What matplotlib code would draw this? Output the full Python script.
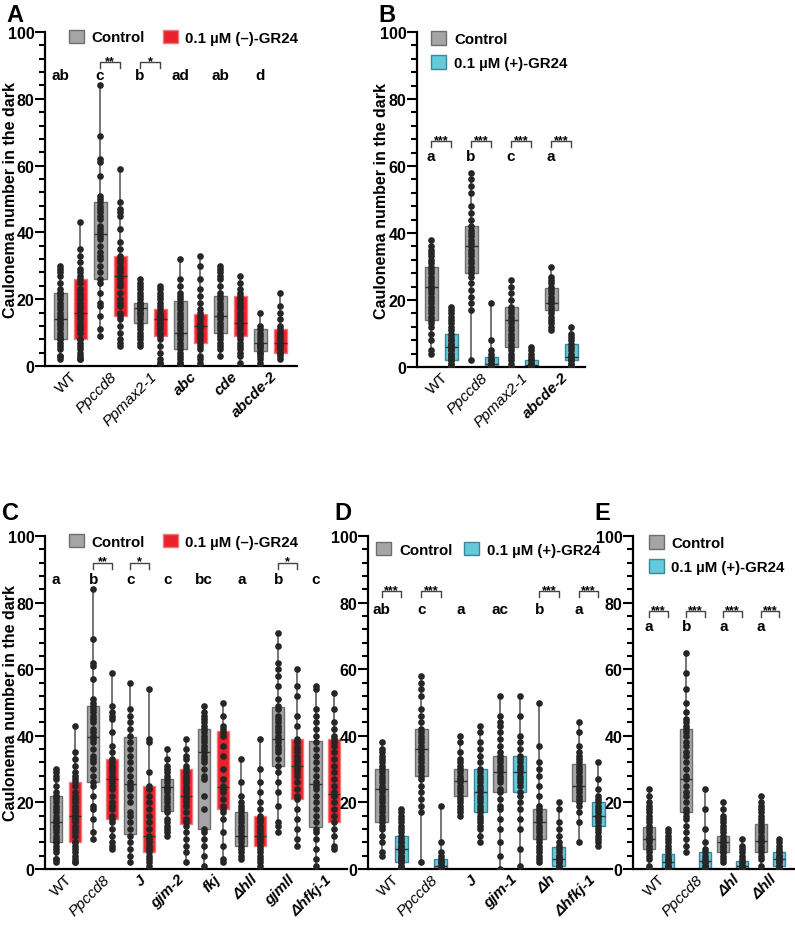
import matplotlib
matplotlib.use('Agg')
import matplotlib.pyplot as plt
from matplotlib.patches import Patch

plt.rcParams['font.family'] = ['Liberation Sans', 'DejaVu Sans']
plt.rcParams['font.weight'] = 'bold'

GRAY = '#a5a5a7'
GRAY_E = '#6e6e6e'
RED = '#e8212b'
RED_E = '#f07a7a'
CYAN = '#63c9db'
CYAN_E = '#3a8797'
DOT = '#262626'

# ---------------- panel A data ----------------
a_labels = ['WT', 'Ppccd8', 'Ppmax2-1', 'abc', 'cde', 'abcde-2']
a_letters = ['ab', 'c', 'b', 'ad', 'ab', 'd']
a_stars = {1: '**', 2: '*'}
a_q1 = [8, 8, 26, 15, 13, 9, 5, 7, 10, 9, 4.5, 4]
a_med = [14, 16, 39.5, 27, 17.5, 14, 10, 12, 15, 13, 7, 7]
a_q3 = [22, 26, 49, 33, 19, 17, 19.5, 15.5, 21, 21, 11, 11]

wt_ctrl = [2, 3, 3, 5, 6, 7, 8, 8, 9, 10, 11, 12, 13, 13, 14, 14, 15, 16, 17, 18, 19, 20, 21, 22, 22, 23, 25, 27, 28, 29, 30]
wt_gr = [2, 2, 3, 4, 5, 6, 7, 8, 8, 10, 11, 12, 13, 14, 15, 16, 16, 17, 18, 19, 20, 21, 22, 23, 25, 26, 27, 28, 29, 31, 33, 35, 43]
ccd8_ctrl = [9, 11, 15, 18, 19, 22, 25, 26, 28, 30, 32, 33, 34, 36, 38, 39, 40, 41, 42, 44, 45, 46, 47, 48, 49, 50, 51, 57, 61, 62, 69, 84]
ccd8_gr = [6, 7, 8, 10, 12, 14, 15, 16, 18, 19, 20, 22, 24, 25, 26, 27, 28, 29, 30, 31, 32, 33, 35, 37, 41, 45, 46, 47, 49, 59]
max2_ctrl = [6, 7, 8, 9, 10, 11, 12, 13, 14, 15, 16, 16, 17, 17, 18, 18, 19, 19, 20, 21, 22, 23, 24, 25, 26]
max2_gr = [1, 1, 2, 4, 6, 8, 9, 10, 11, 12, 13, 13, 14, 14, 15, 15, 16, 17, 18, 19, 20, 21, 22, 23, 24]
abc_ctrl = [1, 1, 2, 3, 4, 5, 6, 7, 8, 9, 10, 10, 11, 12, 13, 14, 15, 16, 17, 18, 19, 20, 21, 22, 24, 26, 32]
abc_gr = [1, 2, 3, 5, 6, 7, 8, 9, 10, 11, 12, 12, 13, 14, 15, 16, 17, 19, 21, 23, 26, 30, 33]
cde_ctrl = [3, 5, 6, 7, 8, 9, 10, 11, 12, 13, 14, 15, 15, 16, 17, 18, 19, 20, 21, 22, 24, 26, 27, 28, 29, 30]
cde_gr = [1, 3, 4, 5, 6, 7, 8, 9, 10, 11, 12, 13, 13, 14, 15, 16, 17, 18, 19, 20, 21, 22, 23, 25, 27]
abcde_ctrl = [1, 2, 3, 4, 4, 5, 6, 6, 7, 7, 8, 9, 10, 11, 12, 16]
abcde_gr = [2, 3, 4, 4, 5, 6, 6, 7, 7, 8, 9, 10, 11, 12, 14, 16, 18, 22]
a_points = [wt_ctrl, wt_gr, ccd8_ctrl, ccd8_gr, max2_ctrl, max2_gr,
            abc_ctrl, abc_gr, cde_ctrl, cde_gr, abcde_ctrl, abcde_gr]

# ---------------- panel B data ----------------
b_labels = ['WT', 'Ppccd8', 'Ppmax2-1', 'abcde-2']
b_letters = ['a', 'b', 'c', 'a']
b_stars = {0: '***', 1: '***', 2: '***', 3: '***'}
b_q1 = [14, 2, 28, 0, 6, 0, 17, 2]
b_med = [24, 6, 36, 1, 14, 0.5, 19, 3]
b_q3 = [30, 10, 42, 3, 18, 2, 23.5, 7]

b_wt_ctrl = [4, 5, 8, 10, 12, 13, 14, 15, 16, 17, 18, 19, 20, 21, 22, 23, 24, 24, 25, 26, 27, 28, 29, 30, 31, 32, 33, 34, 35, 36, 38]
b_wt_gr = [0, 0, 1, 1, 2, 2, 3, 3, 4, 4, 5, 5, 6, 6, 7, 7, 8, 8, 9, 10, 11, 12, 13, 14, 15, 16, 17, 18]
b_ccd8_ctrl = [2, 17, 19, 21, 23, 25, 27, 28, 29, 30, 31, 32, 33, 34, 35, 36, 37, 38, 39, 40, 41, 42, 44, 46, 48, 52, 54, 56, 58]
b_ccd8_gr = [0, 0, 0, 0, 1, 1, 1, 2, 2, 3, 4, 5, 8, 19]
b_max2_ctrl = [0, 1, 2, 3, 4, 5, 6, 7, 8, 9, 10, 11, 12, 13, 14, 15, 16, 17, 18, 20, 22, 24, 26]
b_max2_gr = [0, 0, 0, 0, 0, 0, 1, 1, 1, 2, 2, 3, 4, 5, 6]
b_abcde_ctrl = [11, 12, 13, 14, 15, 16, 17, 18, 19, 19, 20, 21, 22, 23, 24, 25, 26, 27, 30]
b_abcde_gr = [0, 0, 1, 1, 2, 2, 3, 3, 4, 5, 6, 7, 8, 9, 10, 12]
b_points = [b_wt_ctrl, b_wt_gr, b_ccd8_ctrl, b_ccd8_gr, b_max2_ctrl, b_max2_gr,
            b_abcde_ctrl, b_abcde_gr]

# ---------------- panel C data ----------------
c_labels = ['WT', 'Ppccd8', 'J', 'gjm-2', 'fkj', 'Δhll', 'gjmll', 'Δhfkj-1']
c_letters = ['a', 'b', 'c', 'c', 'bc', 'a', 'b', 'c']
c_stars = {1: '**', 2: '*', 6: '*'}
c_q1 = [8, 8, 26, 15, 10.5, 5, 17.5, 13.5, 12, 18, 7, 7, 31, 21, 12.5, 14]
c_med = [14, 16, 39.5, 27, 25.5, 10, 24.5, 22, 35, 24.5, 10, 10, 39, 31, 25.5, 22.5]
c_q3 = [22, 26, 49, 33, 39.5, 25, 27, 30, 42, 41.5, 17, 16, 48.5, 39, 38.5, 39]

j_ctrl = [2, 4, 6, 8, 10, 12, 14, 16, 17, 20, 22, 24, 25, 26, 28, 30, 32, 34, 36, 38, 40, 42, 44, 46, 48, 56]
j_gr = [1, 2, 3, 4, 5, 6, 7, 8, 9, 10, 12, 14, 16, 18, 20, 22, 24, 25, 29, 38, 39, 54]
gjm2_ctrl = [10, 11, 12, 13, 14, 15, 17, 18, 19, 20, 21, 22, 23, 24, 24, 25, 26, 27, 28, 29, 30, 31, 33, 36]
gjm2_gr = [2, 5, 7, 9, 11, 13, 14, 15, 17, 19, 20, 21, 22, 23, 24, 25, 26, 27, 28, 29, 30, 31, 33, 34, 36, 39]
fkj_ctrl = [1, 4, 7, 9, 11, 12, 18, 22, 27, 28, 30, 32, 33, 34, 35, 36, 37, 38, 39, 40, 41, 42, 43, 44, 45, 46, 47, 49]
fkj_gr = [2, 3, 7, 11, 15, 17, 18, 19, 21, 23, 24, 25, 27, 30, 34, 37, 40, 41, 42, 43, 46, 50]
hll_ctrl = [3, 4, 5, 6, 7, 8, 9, 10, 10, 11, 12, 13, 14, 15, 16, 17, 18, 19, 20, 22, 26, 33]
hll_gr = [1, 2, 3, 4, 5, 6, 7, 8, 9, 10, 10, 11, 12, 13, 14, 15, 16, 18, 20, 23, 26, 30, 39]
gjmll_ctrl = [11, 13, 14, 19, 23, 26, 29, 31, 33, 35, 36, 37, 38, 39, 40, 41, 42, 43, 44, 45, 46, 48, 49, 51, 55, 58, 60, 62, 67, 71]
gjmll_gr = [7, 9, 12, 15, 18, 21, 22, 24, 26, 28, 29, 30, 31, 32, 33, 34, 35, 36, 37, 38, 39, 43, 46, 52, 55, 60]
hfkj_ctrl = [1, 3, 6, 9, 11, 12, 14, 16, 18, 20, 22, 24, 25, 26, 28, 30, 32, 34, 36, 38, 40, 42, 44, 46, 48, 54, 55]
hfkj_gr = [6, 7, 10, 12, 14, 16, 18, 20, 22, 23, 25, 27, 29, 31, 33, 35, 37, 38, 39, 40, 42, 44, 48, 53]
c_points = [wt_ctrl, wt_gr, ccd8_ctrl, ccd8_gr, j_ctrl, j_gr, gjm2_ctrl, gjm2_gr,
            fkj_ctrl, fkj_gr, hll_ctrl, hll_gr, gjmll_ctrl, gjmll_gr, hfkj_ctrl, hfkj_gr]

# ---------------- panel D data ----------------
d_labels = ['WT', 'Ppccd8', 'J', 'gjm-1', 'Δh', 'Δhfkj-1']
d_letters = ['ab', 'c', 'a', 'ac', 'b', 'a']
d_stars = {0: '***', 1: '***', 4: '***', 5: '***'}
d_q1 = [14, 2, 28, 0, 22, 17, 23, 23, 9, 1, 20.5, 13]
d_med = [24, 6, 36, 1, 26.5, 23, 29, 29, 14, 3, 25, 16]
d_q3 = [30, 10, 42, 3, 30, 30, 34, 34, 18, 6.5, 31.5, 20]

d_j_ctrl = [16, 17, 18, 19, 20, 21, 22, 23, 24, 25, 26, 27, 27, 28, 29, 30, 31, 32, 33, 35, 38, 40]
d_j_gr = [8, 10, 12, 13, 14, 15, 16, 17, 18, 19, 20, 21, 22, 23, 24, 25, 26, 27, 28, 29, 30, 32, 34, 36, 38, 41, 43]
gjm1_ctrl = [0, 4, 8, 12, 15, 18, 19, 21, 23, 24, 26, 27, 28, 29, 30, 31, 32, 33, 34, 35, 37, 39, 41, 43, 44, 46, 52]
gjm1_gr = [1, 6, 12, 15, 18, 20, 22, 23, 25, 26, 27, 28, 29, 30, 31, 32, 33, 34, 36, 38, 40, 46, 52]
h_ctrl = [2, 3, 4, 5, 6, 7, 8, 9, 10, 11, 12, 13, 14, 15, 16, 17, 18, 19, 22, 25, 28, 30, 32, 37, 50]
h_gr = [0, 0, 1, 1, 2, 2, 3, 3, 4, 4, 5, 6, 7, 8, 10, 12, 14, 18, 20]
d_hfkj_ctrl = [8, 14, 17, 19, 20, 21, 22, 23, 24, 25, 26, 27, 28, 29, 30, 31, 32, 33, 34, 35, 37, 41, 44]
d_hfkj_gr = [7, 8, 9, 10, 11, 12, 13, 14, 15, 16, 16, 17, 18, 19, 20, 21, 22, 24, 27, 32]
d_points = [b_wt_ctrl, b_wt_gr, b_ccd8_ctrl, b_ccd8_gr, d_j_ctrl, d_j_gr,
            gjm1_ctrl, gjm1_gr, h_ctrl, h_gr, d_hfkj_ctrl, d_hfkj_gr]

# ---------------- panel E data ----------------
e_labels = ['WT', 'Ppccd8', 'Δhl', 'Δhll']
e_letters = ['a', 'b', 'a', 'a']
e_stars = {0: '***', 1: '***', 2: '***', 3: '***'}
e_q1 = [6, 0, 17, 0, 5, 0, 5, 1]
e_med = [9, 2, 27, 2.5, 8, 1, 8.5, 3]
e_q3 = [12.5, 4.5, 42, 5, 10, 2.5, 13.5, 5]

e_wt_ctrl = [0, 1, 3, 4, 5, 6, 7, 8, 9, 9, 10, 11, 12, 13, 14, 15, 16, 17, 18, 19, 20, 22, 24]
e_wt_gr = [0, 0, 0, 1, 1, 2, 2, 3, 3, 4, 5, 6, 7, 8, 9, 10, 11, 12]
e_ccd8_ctrl = [5, 7, 9, 11, 13, 15, 16, 17, 18, 20, 22, 23, 25, 27, 28, 30, 32, 34, 35, 37, 38, 40, 41, 42, 43, 44, 45, 47, 50, 54, 59, 65]
e_ccd8_gr = [0, 0, 0, 1, 1, 2, 2, 3, 4, 5, 6, 8, 12, 18, 24]
hl_ctrl = [2, 3, 4, 5, 5, 6, 7, 7, 8, 8, 9, 10, 11, 12, 13, 14, 15, 16, 18, 20]
hl_gr = [0, 0, 0, 0, 1, 1, 1, 2, 2, 3, 4, 5, 6, 7, 9]
e_hll_ctrl = [1, 3, 4, 5, 6, 7, 8, 8, 9, 10, 11, 12, 13, 14, 15, 16, 17, 18, 19, 20, 22]
e_hll_gr = [0, 0, 1, 1, 2, 2, 3, 3, 4, 4, 5, 5, 6, 7, 8, 9]
e_points = [e_wt_ctrl, e_wt_gr, e_ccd8_ctrl, e_ccd8_gr, hl_ctrl, hl_gr, e_hll_ctrl, e_hll_gr]

# label styles: (style, weight)
label_style = {'WT': ('normal', 'normal'), 'Ppccd8': ('italic', 'normal'),
               'Ppmax2-1': ('italic', 'normal')}

W, H = 795, 928


def px(l, t, r, b):
    return [l / W, 1 - b / H, (r - l) / W, (b - t) / H]


def panel(ax, points, q1, med, q3, labels, letters, stars, treat_col, treat_edge,
          xlim, let_y, br_y, ylabel_x=None):
    n = len(points)
    pos = list(range(n))
    stats = []
    for i in range(n):
        stats.append({'med': med[i], 'q1': q1[i], 'q3': q3[i],
                      'whislo': min(points[i]), 'whishi': max(points[i]), 'fliers': []})
    bp = ax.bxp(stats, positions=pos, widths=0.65, patch_artist=True, showcaps=False,
                showfliers=False,
                whiskerprops=dict(color='#6a6a6a', lw=1.3),
                medianprops=dict(color='#333333', lw=1.0),
                boxprops=dict(lw=1.0))
    for i, b in enumerate(bp['boxes']):
        if i % 2 == 0:
            b.set_facecolor(GRAY)
            b.set_edgecolor(GRAY_E)
        else:
            b.set_facecolor(treat_col)
            b.set_edgecolor(treat_edge)
    for i in range(n):
        ax.plot([pos[i]] * len(points[i]), points[i], 'o', color=DOT, ms=4.8,
                mec='none', zorder=5)
    ax.set_xlim(*xlim)
    ax.set_ylim(0, 100)
    ax.set_yticks(range(0, 101, 20))
    ax.set_yticks(range(0, 101, 4), minor=True)
    ax.tick_params(axis='y', which='major', length=7, width=1.5, labelsize=11.5, pad=0.5)
    ax.tick_params(axis='y', which='minor', length=4, width=1.5)
    ax.tick_params(axis='x', length=0, pad=2)
    for s in ['top', 'right']:
        ax.spines[s].set_visible(False)
    for s in ['left', 'bottom']:
        ax.spines[s].set_linewidth(1.6)
    for t in ax.get_yticklabels():
        t.set_fontweight('bold')
    ax.set_xticks([p + 0.5 for p in pos[::2]])
    ax.set_xticklabels(labels, rotation=45, ha='right', rotation_mode='anchor', fontsize=11)
    for t, lab in zip(ax.get_xticklabels(), labels):
        st, wt = label_style.get(lab, ('italic', 'bold'))
        t.set_fontstyle(st)
        t.set_fontweight(wt)
    if ylabel_x is not None:
        ax.set_ylabel('Caulonema number in the dark', fontsize=11.5, fontweight='bold')
        l, b_, w, h = ax.get_position().bounds
        ax.yaxis.set_label_coords((ylabel_x / W - l) / w, 0.5)
    for k, lt in enumerate(letters):
        ax.text(2 * k, let_y, lt, ha='center', va='center', fontsize=11,
                fontweight='bold')
    for k, s in stars.items():
        x0, x1 = 2 * k, 2 * k + 1
        ax.plot([x0, x0, x1, x1], [br_y - 1.8, br_y, br_y, br_y - 1.8], color='#444444',
                lw=1.0)
        ax.text((x0 + x1) / 2, br_y - 0.6, s, ha='center', va='baseline', fontsize=9,
                fontweight='bold')


fig = plt.figure(figsize=(W / 100, H / 100), dpi=100)

axA = fig.add_axes(px(45, 33, 297, 367))
panel(axA, a_points, a_q1, a_med, a_q3, a_labels, a_letters, a_stars, RED, RED_E,
      (-0.75, 11.85), 87, 91, ylabel_x=18)
axB = fig.add_axes(px(417, 33, 585, 368))
panel(axB, b_points, b_q1, b_med, b_q3, b_labels, b_letters, b_stars, CYAN, CYAN_E,
      (-0.7, 7.7), 63, 67.5, ylabel_x=389)
axC = fig.add_axes(px(45, 537, 347, 870))
panel(axC, c_points, c_q1, c_med, c_q3, c_labels, c_letters, c_stars, RED, RED_E,
      (-0.6, 15.7), 87, 92, ylabel_x=18)
axD = fig.add_axes(px(368, 537, 612, 870))
panel(axD, d_points, d_q1, d_med, d_q3, d_labels, d_letters, d_stars, CYAN, CYAN_E,
      (-0.7, 11.7), 78, 83.5)
axE = fig.add_axes(px(633, 537, 795, 870))
panel(axE, e_points, e_q1, e_med, e_q3, e_labels, e_letters, e_stars, CYAN, CYAN_E,
      (-0.86, 7.85), 73, 77.5)

h_ctrl_patch = Patch(facecolor=GRAY, edgecolor=GRAY_E, label='Control')
h_minus = Patch(facecolor=RED, edgecolor=RED_E, label='0.1 µM (–)-GR24')
h_plus = Patch(facecolor=CYAN, edgecolor=CYAN_E, label='0.1 µM (+)-GR24')
leg_kw = dict(frameon=False, handlelength=1.0, handleheight=1.0, handletextpad=0.5,
              borderaxespad=0, prop={'weight': 'bold', 'size': 10.8})
axA.legend(handles=[h_ctrl_patch, h_minus], ncol=2, loc='upper left',
           bbox_to_anchor=(0.07, 1.025), columnspacing=1.2, **leg_kw)
axC.legend(handles=[h_ctrl_patch, h_minus], ncol=2, loc='upper left',
           bbox_to_anchor=(0.06, 1.025), columnspacing=1.2, **leg_kw)
axB.legend(handles=[h_ctrl_patch, h_plus], ncol=1, loc='upper left',
           bbox_to_anchor=(0.05, 1.02), labelspacing=0.6, **leg_kw)
axD.legend(handles=[h_ctrl_patch, h_plus], ncol=2, loc='upper left',
           bbox_to_anchor=(0.01, 1.0), columnspacing=0.8, **leg_kw)
axE.legend(handles=[h_ctrl_patch, h_plus], ncol=1, loc='upper left',
           bbox_to_anchor=(0.06, 1.02), labelspacing=0.6, **leg_kw)

for lab, x, y in [('A', 6, 4), ('B', 378, 4), ('C', 2, 502), ('D', 334, 502), ('E', 594, 502)]:
    fig.text(x / W, 1 - y / H, lab, fontsize=17, fontweight='bold', ha='left', va='top')

fig.savefig('out.png', dpi=100)
